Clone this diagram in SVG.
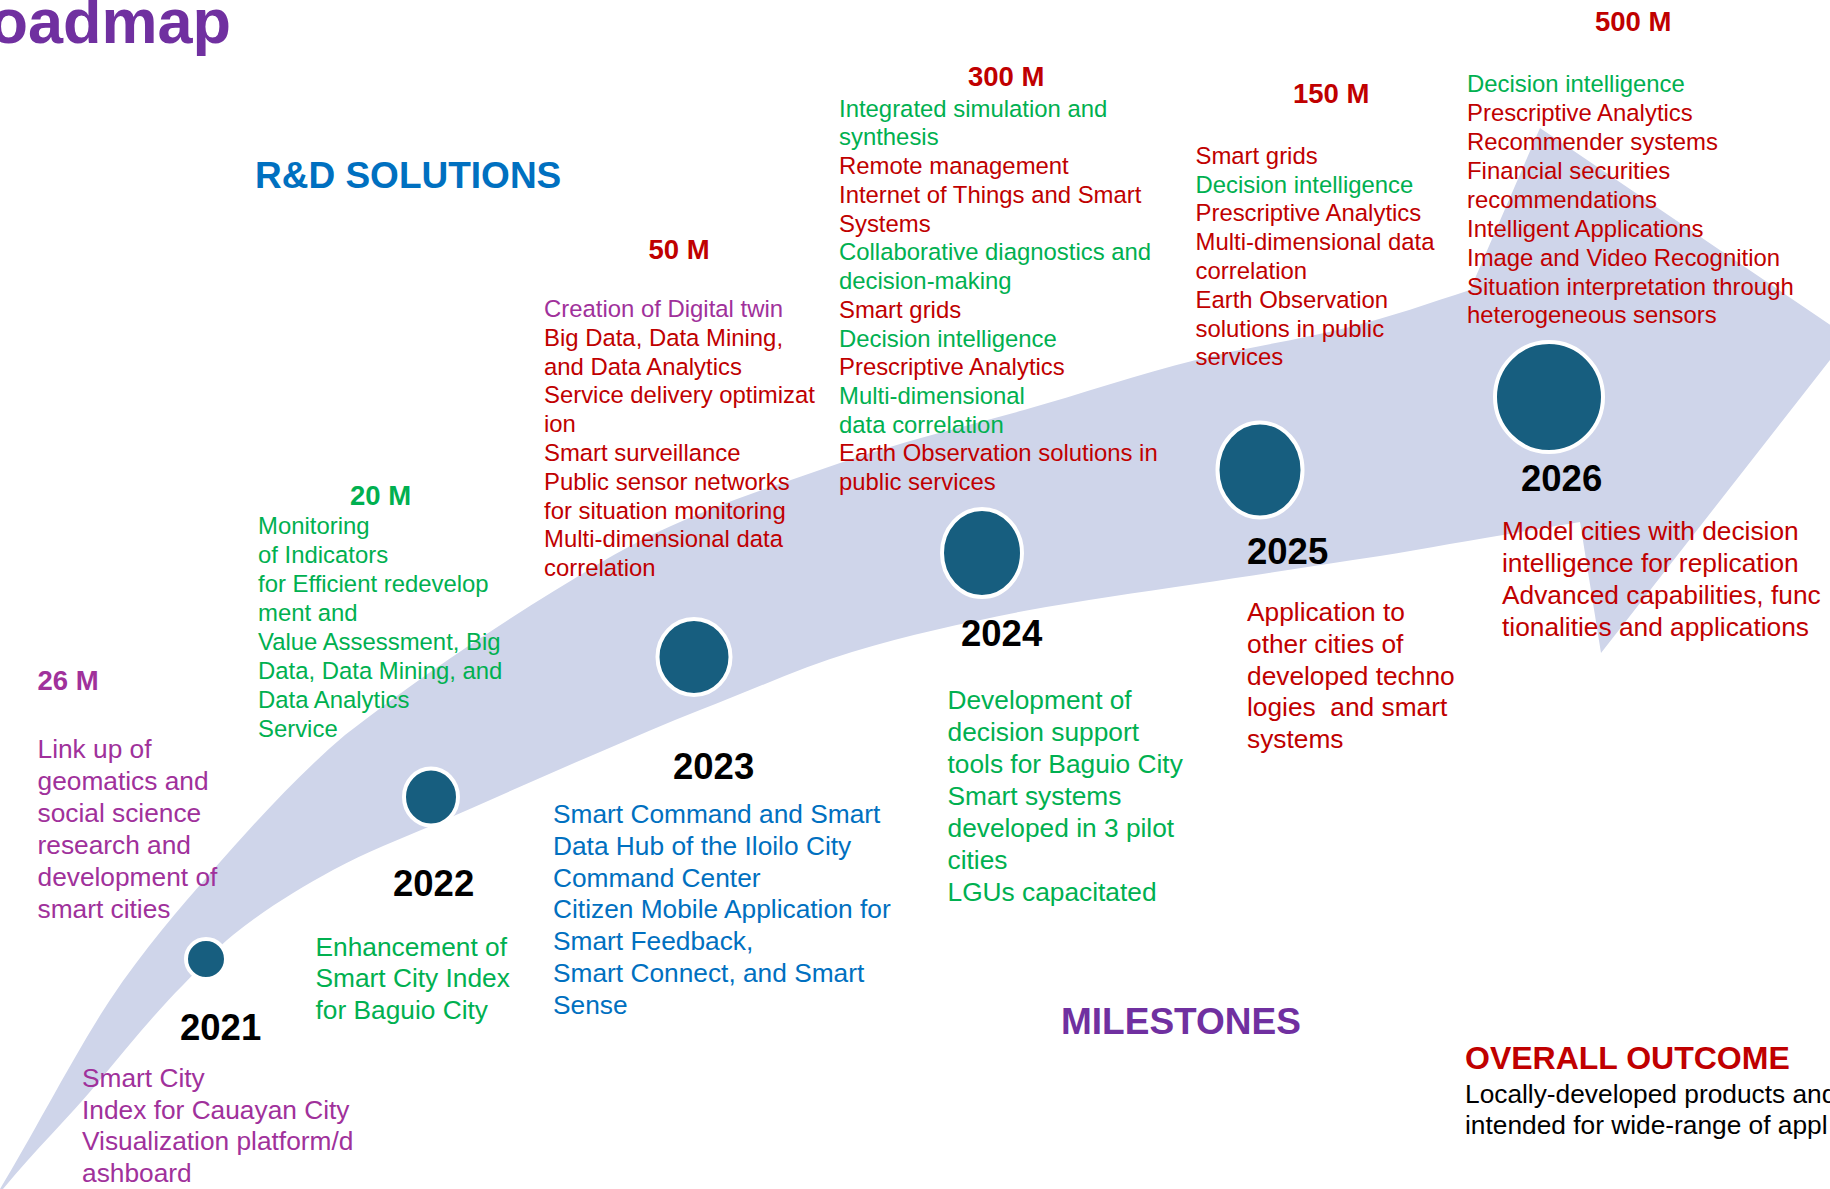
<svg xmlns="http://www.w3.org/2000/svg" width="1830" height="1189" viewBox="0 0 1830 1189">
<style>
text{font-family:"Liberation Sans",Arial,Helvetica,sans-serif}
.b{font-weight:bold}
.rd{font-size:23.9px}
.ms{font-size:26.3px}
.yr{font-size:36.5px;font-weight:bold;fill:#000}
.num{font-size:27.5px;font-weight:bold}
.g{fill:#00b050}.r{fill:#c00000}.p{fill:#a0319b}.bl{fill:#0070c0}.pu{fill:#7030a0}
.dot{fill:#175e7f;stroke:#fff;stroke-width:4}
</style>
<rect width="1830" height="1189" fill="#fff"/>
<g id="arrow-band">
<path fill="#cfd5ea" d="M0,1189 C30,1140 77,1049.5 110,1000 C144,949 179,908.8 213,870 C257,819.8 301,772.4 345,735 C430,668.7 515,614 600,563 C680,515 760,491 840,463 C901,441.6 963,427 1024,410 C1081,394 1139,374 1196,360 C1247,347 1299,340 1350,327 C1390,317 1430,303 1470,290 L1540,128 L1848,337 L1601,653 L1580,522 C1500,535 1440,546 1380,556 C1320,565 1256,575 1196,584 C1136,593 1084,600 1024,611 C964,623 912,634 852,652 C801.3,667.2 750.7,690.7 700,710 C666.7,722.7 633.3,738 600,752 C544.3,775.4 488.7,801 433,825 C399.7,839.3 366.7,851.7 333,870 C299.7,888.3 266.3,908.3 233,935 C216.3,948.3 199.7,968.3 183,985 C155.3,1012.7 127.7,1046.8 100,1080 C67.7,1118.8 35,1150 3,1189 Z"/>
</g>
<g id="title"><text class="b pu" x="231" y="43" font-size="63" text-anchor="end">Roadmap</text></g>
<g id="rd-solutions"><text class="b bl" x="255" y="188" font-size="37">R&amp;D SOLUTIONS</text></g>
<g id="milestones-label"><text class="b pu" x="1061" y="1034" font-size="37">MILESTONES</text></g>
<g id="overall-outcome">
<text class="b r" x="1465" y="1069" font-size="32">OVERALL OUTCOME</text>
<text class="ms" fill="#000"><tspan x="1465" y="1103">Locally-developed products and</tspan><tspan x="1465" y="1133.5">intended for wide-range of appl</tspan></text>
</g>
<g id="y2021">
<ellipse class="dot" cx="206" cy="959" rx="20" ry="20"/>
<text class="yr" x="180" y="1040">2021</text>
<text class="num p" x="37.5" y="690" font-size="28.8">26 M</text>
<text class="ms p"><tspan x="37.5" y="758">Link up of</tspan><tspan x="37.5" y="790">geomatics and</tspan><tspan x="37.5" y="822">social science</tspan><tspan x="37.5" y="854">research and</tspan><tspan x="37.5" y="886">development of</tspan><tspan x="37.5" y="918">smart cities</tspan></text>
<text class="ms p"><tspan x="82" y="1087">Smart City</tspan><tspan x="82" y="1118.5">Index for Cauayan City</tspan><tspan x="82" y="1150">Visualization platform/d</tspan><tspan x="82" y="1181.5">ashboard</tspan></text>
</g>
<g id="y2022">
<ellipse class="dot" cx="431" cy="797" rx="27" ry="28.5"/>
<text class="yr" x="393" y="896">2022</text>
<text class="num g" x="350" y="504.5">20 M</text>
<text class="rd g"><tspan x="258" y="534">Monitoring</tspan><tspan x="258" y="563">of Indicators</tspan><tspan x="258" y="592">for Efficient redevelop</tspan><tspan x="258" y="621">ment and</tspan><tspan x="258" y="650">Value Assessment, Big</tspan><tspan x="258" y="679">Data, Data Mining, and</tspan><tspan x="258" y="708">Data Analytics</tspan><tspan x="258" y="737">Service</tspan></text>
<text class="ms g"><tspan x="315.5" y="955.5">Enhancement of</tspan><tspan x="315.5" y="987.1">Smart City Index</tspan><tspan x="315.5" y="1018.7">for Baguio City</tspan></text>
</g>
<g id="y2023">
<ellipse class="dot" cx="694" cy="657" rx="36.5" ry="38"/>
<text class="yr" x="673" y="779">2023</text>
<text class="num r" x="648.5" y="259">50 M</text>
<text class="rd r"><tspan class="p" x="544" y="317">Creation of Digital twin</tspan><tspan x="544" y="345.8">Big Data, Data Mining,</tspan><tspan x="544" y="374.6">and Data Analytics</tspan><tspan x="544" y="403.4">Service delivery optimizat</tspan><tspan x="544" y="432.2">ion</tspan><tspan x="544" y="461">Smart surveillance</tspan><tspan x="544" y="489.8">Public sensor networks</tspan><tspan x="544" y="518.6">for situation monitoring</tspan><tspan x="544" y="547.4">Multi-dimensional data</tspan><tspan x="544" y="576.2">correlation</tspan></text>
<text class="ms bl"><tspan x="553" y="823">Smart Command and Smart</tspan><tspan x="553" y="854.8">Data Hub of the Iloilo City</tspan><tspan x="553" y="886.6">Command Center</tspan><tspan x="553" y="918.4">Citizen Mobile Application for</tspan><tspan x="553" y="950.2">Smart Feedback,</tspan><tspan x="553" y="982">Smart Connect, and Smart</tspan><tspan x="553" y="1013.8">Sense</tspan></text>
</g>
<g id="y2024">
<ellipse class="dot" cx="982" cy="553" rx="40" ry="44"/>
<text class="yr" x="961" y="646">2024</text>
<text class="num r" x="968" y="86" font-size="27.8">300 M</text>
<text class="rd r"><tspan class="g" x="839" y="116.7">Integrated simulation and</tspan><tspan class="g" x="839" y="145.4">synthesis</tspan><tspan x="839" y="174.1">Remote management</tspan><tspan x="839" y="202.9">Internet of Things and Smart</tspan><tspan x="839" y="231.6">Systems</tspan><tspan class="g" x="839" y="260.3">Collaborative diagnostics and</tspan><tspan class="g" x="839" y="289">decision-making</tspan><tspan x="839" y="317.7">Smart grids</tspan><tspan class="g" x="839" y="346.5">Decision intelligence</tspan><tspan x="839" y="375.2">Prescriptive Analytics</tspan><tspan class="g" x="839" y="403.9">Multi-dimensional</tspan><tspan class="g" x="839" y="432.6">data correlation</tspan><tspan x="839" y="461.3">Earth Observation solutions in</tspan><tspan x="839" y="490.1">public services</tspan></text>
<text class="ms g"><tspan x="947.5" y="708.7">Development of</tspan><tspan x="947.5" y="740.7">decision support</tspan><tspan x="947.5" y="772.7">tools for Baguio City</tspan><tspan x="947.5" y="804.7">Smart systems</tspan><tspan x="947.5" y="836.7">developed in 3 pilot</tspan><tspan x="947.5" y="868.7">cities</tspan><tspan x="947.5" y="900.7">LGUs capacitated</tspan></text>
</g>
<g id="y2025">
<ellipse class="dot" cx="1260" cy="470" rx="42.5" ry="47.5"/>
<text class="yr" x="1247" y="564">2025</text>
<text class="num r" x="1293" y="102.6">150 M</text>
<text class="rd r"><tspan x="1195.5" y="163.8">Smart grids</tspan><tspan class="g" x="1195.5" y="192.6">Decision intelligence</tspan><tspan x="1195.5" y="221.4">Prescriptive Analytics</tspan><tspan x="1195.5" y="250.2">Multi-dimensional data</tspan><tspan x="1195.5" y="279">correlation</tspan><tspan x="1195.5" y="307.8">Earth Observation</tspan><tspan x="1195.5" y="336.6">solutions in public</tspan><tspan x="1195.5" y="365.4">services</tspan></text>
<text class="ms r" xml:space="preserve"><tspan x="1247" y="621">Application to</tspan><tspan x="1247" y="652.8">other cities of</tspan><tspan x="1247" y="684.6">developed techno</tspan><tspan x="1247" y="716.4">logies  and smart</tspan><tspan x="1247" y="748.2">systems</tspan></text>
</g>
<g id="y2026">
<ellipse class="dot" cx="1549" cy="397" rx="54" ry="55"/>
<text class="yr" x="1521" y="491">2026</text>
<text class="num r" x="1595" y="31.4">500 M</text>
<text class="rd r"><tspan class="g" x="1467" y="91.8">Decision intelligence</tspan><tspan x="1467" y="120.8">Prescriptive Analytics</tspan><tspan x="1467" y="149.7">Recommender systems</tspan><tspan x="1467" y="178.7">Financial securities</tspan><tspan x="1467" y="207.6">recommendations</tspan><tspan x="1467" y="236.6">Intelligent Applications</tspan><tspan x="1467" y="265.5">Image and Video Recognition</tspan><tspan x="1467" y="294.5">Situation interpretation through</tspan><tspan x="1467" y="323.4">heterogeneous sensors</tspan></text>
<text class="ms r"><tspan x="1502" y="540.4">Model cities with decision</tspan><tspan x="1502" y="572.3">intelligence for replication</tspan><tspan x="1502" y="604.2">Advanced capabilities, func</tspan><tspan x="1502" y="636.1">tionalities and applications</tspan></text>
</g>
</svg>
